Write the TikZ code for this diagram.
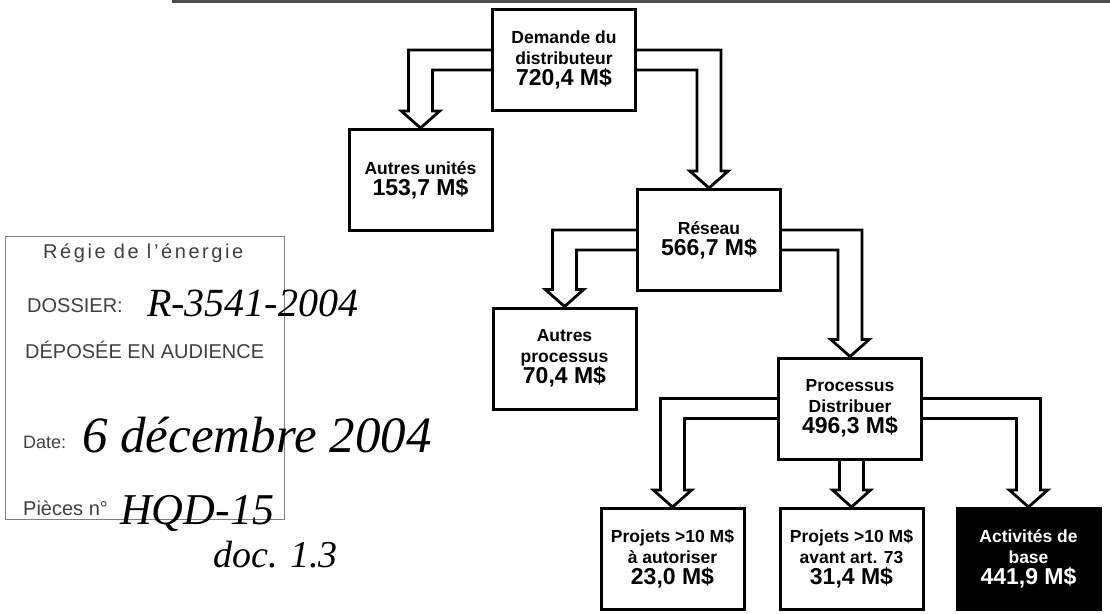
\documentclass[tikz,border=0pt]{standalone}
\usepackage{fontspec}
\setmainfont{Liberation Sans}
\newfontfamily\handfont{Liberation Serif}
\usetikzlibrary{positioning, calc}

\newcommand{\valfont}{\fontsize{23}{26}\selectfont}
% hollow bent arrow: source node, side anchor, target node, outer offset
\newcommand{\sidearrow}[4]{%
  \draw[fat] let \p1=(#1.north), \p2=(#1.#2), \p3=(#3.north) in
    (\x2,{\y1-42pt}) -- ({\x3+(#4pt)},{\y1-42pt}) -- ({\x3+(#4pt)},{\y3+17pt})
    -- ({\x3+1.6*(#4pt)},{\y3+17pt}) -- (\x3,\y3) -- ({\x3-1.6*(#4pt)},{\y3+17pt})
    -- ({\x3-(#4pt)},{\y3+17pt}) -- ({\x3-(#4pt)},{\y1-62pt}) -- (\x2,{\y1-62pt});}
% hollow straight arrow downwards
\newcommand{\fatdown}[2]{%
  \draw[fat] let \p1=(#1.south), \p3=(#2.north) in
    ({\x3-12pt},\y1) -- ({\x3-12pt},{\y3+17pt}) -- ({\x3-19pt},{\y3+17pt})
    -- (\x3,\y3) -- ({\x3+19pt},{\y3+17pt}) -- ({\x3+12pt},{\y3+17pt}) -- ({\x3+12pt},\y1);}

\begin{document}
\begin{tikzpicture}[
        x=1pt, y=-1pt,
        box/.style={
            rectangle,
            draw,
            line width=3pt,
            minimum width=143pt,
            minimum height=101pt,
            align=center,
            inner sep=2pt,
            font=\fontsize{17.5}{21}\selectfont\bfseries
        },
        fat/.style={
            draw,
            line width=2.8pt,
            line join=miter
        },
        stamptext/.style={anchor=base west, inner sep=0pt, text=black!75, font=\fontsize{20}{20}\selectfont},
        hand/.style={anchor=base west, inner sep=0pt, font=\handfont\itshape\fontsize{40}{40}\selectfont}
    ]
    \useasboundingbox (0,0) rectangle (1110,613);
    \fill[black!70] (172,0) rectangle (1110,3);

    % Boxes (top to bottom)
    \node[box] (demande) at (564,60) {Demande du\\distributeur\\\valfont 720,4 M\$};
    \node[box] (unites) at (420.5,180) {Autres unités\\\valfont 153,7 M\$};
    \node[box] (reseau) at (709,240) {Réseau\\\valfont 566,7 M\$};
    \node[box] (autres) at (564.5,358.5) {Autres\\processus\\\valfont 70,4 M\$};
    \node[box] (distribuer) at (850,408.5) {Processus\\Distribuer\\\valfont 496,3 M\$};
    \node[box] (projA) at (672.5,559) {Projets >10 M\$\\à autoriser\\\valfont 23,0 M\$};
    \node[box, right=33pt of projA] (projB) {Projets >10 M\$\\avant art. 73\\\valfont 31,4 M\$};
    \node[box, right=31pt of projB, fill=black, text=white] (base) {Activités de\\base\\\valfont 441,9 M\$};

    % Arrows
    \sidearrow{demande}{west}{unites}{-12}
    \sidearrow{demande}{east}{reseau}{12}
    \sidearrow{reseau}{west}{autres}{-12}
    \sidearrow{reseau}{east}{distribuer}{12}
    \sidearrow{distribuer}{west}{projA}{-12}
    \sidearrow{distribuer}{east}{base}{12}
    \fatdown{distribuer}{projB}

    % Stamp
    \node[draw=black!50, line width=1.5pt, minimum width=279pt, minimum height=283pt] (stamp) at (145,378) {};
    \node[stamptext, font=\fontsize{20}{20}\selectfont\addfontfeature{LetterSpace=13}] (regie) at (43,258) {Régie de l'énergie};
    \node[stamptext] (dossier) at (27,312) {DOSSIER:};
    \node[stamptext] (deposee) at (25,358) {DÉPOSÉE EN AUDIENCE};
    \node[stamptext, font=\fontsize{18}{18}\selectfont] (date) at (23,448) {Date:};
    \node[stamptext] (pieces) at (23,515) {Pièces n°};
    \node[hand] (numero) at (147,316) {R-3541-2004};
    \node[hand, font=\handfont\itshape\fontsize{51}{51}\selectfont] (jour) at (82,452) {6 décembre 2004};
    \node[hand, font=\handfont\itshape\fontsize{44}{44}\selectfont] (piece) at (120,524) {HQD-15};
    \node[hand, font=\handfont\itshape\fontsize{38}{38}\selectfont] (doc) at (213,567) {doc. 1.3};

\end{tikzpicture}
\end{document}
